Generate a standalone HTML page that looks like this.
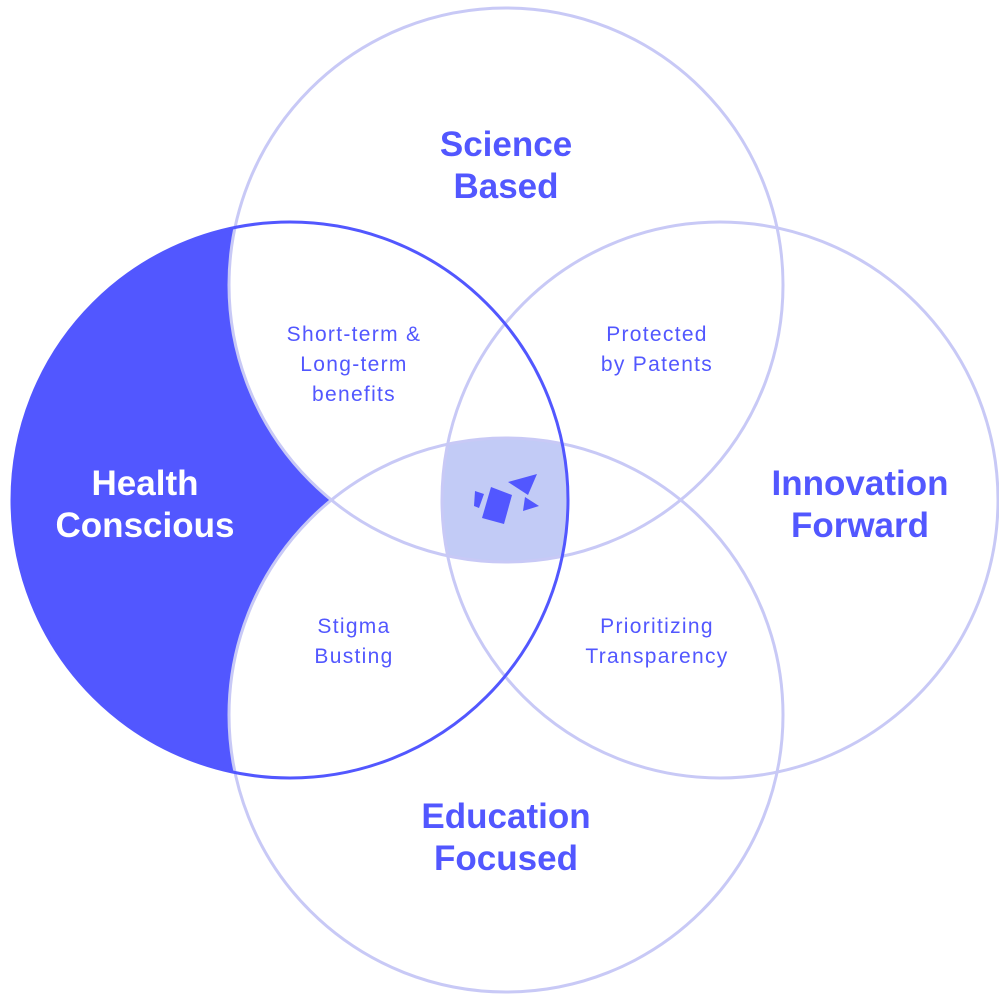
<!DOCTYPE html>
<html><head><style>html,body{margin:0;padding:0;background:#fff;}svg{display:block}
text{font-family:"Liberation Sans",sans-serif;fill:#5257FF;text-anchor:middle}
.t{font-size:35px;font-weight:bold}.s{font-size:21px;letter-spacing:1.3px}.w{fill:#fff}</style></head><body>
<svg width="999" height="999" viewBox="0 0 999 999">
<defs>
<clipPath id="cl"><circle cx="290" cy="500" r="278"/></clipPath>
<clipPath id="cr"><circle cx="720" cy="500" r="278"/></clipPath>
<clipPath id="ct"><circle cx="506" cy="285" r="277"/></clipPath>
<clipPath id="cb"><circle cx="506" cy="715" r="277"/></clipPath>
</defs>
<circle cx="290" cy="500" r="278" fill="#5257FF"/>
<g clip-path="url(#cl)"><circle cx="506" cy="285" r="277" fill="#fff"/><circle cx="506" cy="715" r="277" fill="#fff"/></g>
<g clip-path="url(#cl)"><g clip-path="url(#cr)"><g clip-path="url(#ct)"><g clip-path="url(#cb)"><rect width="999" height="999" fill="#c2cbf6"/></g></g></g></g>
<g fill="none" stroke="#c8c9f6" stroke-width="3">
<circle cx="506" cy="285" r="277"/><circle cx="720" cy="500" r="278"/><circle cx="506" cy="715" r="277"/></g>
<circle cx="290" cy="500" r="278" fill="none" stroke="#5257FF" stroke-width="3"/>
<g fill="#5257FF">
<polygon points="475,491 484,494 479,508 474,506"/>
<polygon points="491,487 512,495 504,524 482,518"/>
<polygon points="508,482 537,474 528,495"/>
<polygon points="525,497 539,506 523,511"/>
</g>
<text class="t" x="506" y="156">Science</text><text class="t" x="506" y="198">Based</text>
<text class="t w" x="145" y="495">Health</text><text class="t w" x="145" y="537">Conscious</text>
<text class="t" x="860" y="495">Innovation</text><text class="t" x="860" y="537">Forward</text>
<text class="t" x="506" y="828">Education</text><text class="t" x="506" y="870">Focused</text>
<text class="s" x="354" y="341">Short-term &amp;</text><text class="s" x="354" y="371">Long-term</text><text class="s" x="354" y="401">benefits</text>
<text class="s" x="657" y="341">Protected</text><text class="s" x="657" y="371">by Patents</text>
<text class="s" x="354" y="633">Stigma</text><text class="s" x="354" y="663">Busting</text>
<text class="s" x="657" y="633">Prioritizing</text><text class="s" x="657" y="663">Transparency</text>
</svg></body></html>
